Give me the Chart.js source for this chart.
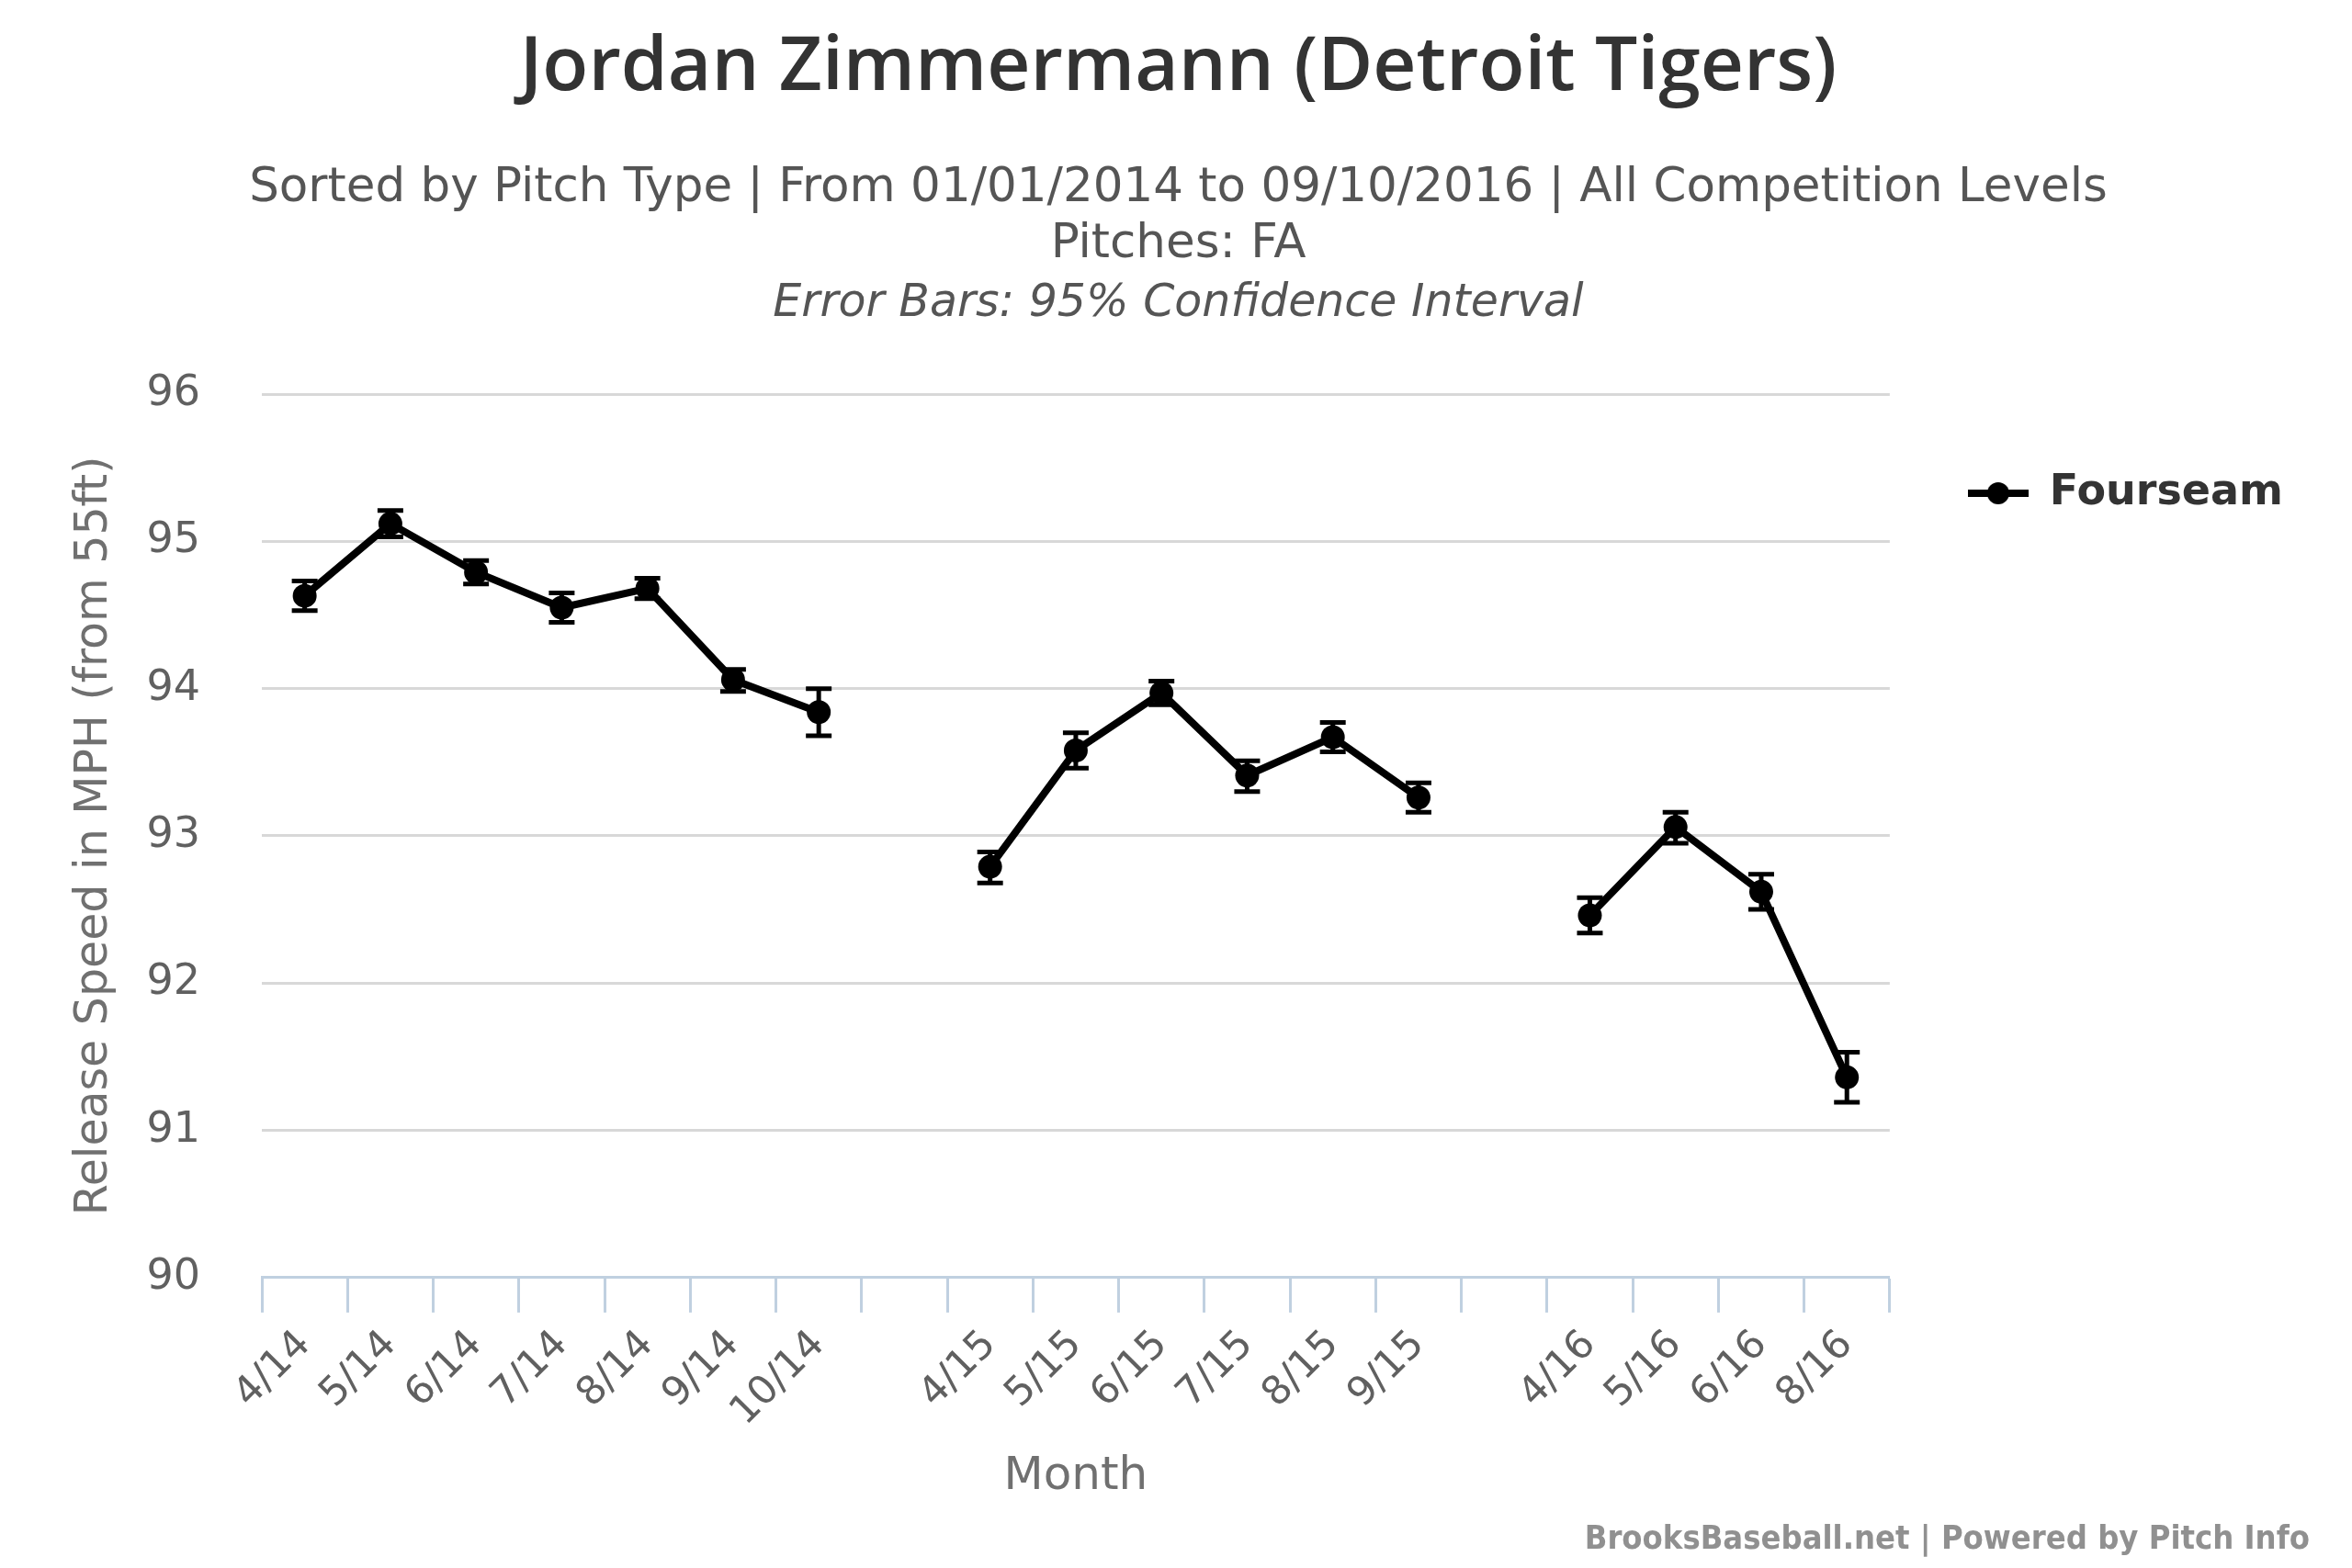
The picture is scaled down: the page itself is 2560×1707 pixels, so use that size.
<!DOCTYPE html>
<html lang="en">
<head>
    <meta charset="UTF-8">
    <title>Jordan Zimmermann (Detroit Tigers)</title>
    <script src="https://cdn.jsdelivr.net/npm/chart.js"></script>
    <style>
        html, body { margin: 0; padding: 0; background: #fff; }
        #wrap { width: 2560px; height: 1707px; position: relative; }
    </style>
</head>
<body>
    <div id="wrap"><canvas id="chart"></canvas></div>

    <script>
        // Months (empty label = off-season gap)
        const months = ['4/14', '5/14', '6/14', '7/14', '8/14', '9/14', '10/14', '',
                        '4/15', '5/15', '6/15', '7/15', '8/15', '9/15', '',
                        '4/16', '5/16', '6/16', '8/16'];

        // Fourseam release speed (mph) and 95% CI bounds
        const speed  = [94.63, 95.12, 94.79, 94.55, 94.68, 94.06, 93.84, null,
                        92.79, 93.58, 93.97, 93.41, 93.67, 93.26, null,
                        92.46, 93.06, 92.62, 91.36];
        const ciLow  = [94.53, 95.03, 94.71, 94.45, 94.61, 93.98, 93.68, null,
                        92.68, 93.46, 93.89, 93.30, 93.57, 93.16, null,
                        92.34, 92.95, 92.50, 91.19];
        const ciHigh = [94.73, 95.21, 94.87, 94.65, 94.75, 94.13, 94.00, null,
                        92.89, 93.70, 94.05, 93.51, 93.77, 93.36, null,
                        92.58, 93.16, 92.74, 91.53];

        const yMin = 90, yMax = 96, yStep = 1;

        const titleText = 'Jordan Zimmermann (Detroit Tigers)';
        const subtitleLines = ['Sorted by Pitch Type | From 01/01/2014 to 09/10/2016 | All Competition Levels', 'Pitches: FA'];
        const noteLine = 'Error Bars: 95% Confidence Interval';
        const creditText = 'BrooksBaseball.net | Powered by Pitch Info';

        Chart.defaults.font.family = '"DejaVu Sans", sans-serif';

        // legend symbol: line through a dot
        const legendSymbol = document.createElement('canvas');
        legendSymbol.width = 66;
        legendSymbol.height = 26;
        const sctx = legendSymbol.getContext('2d');
        sctx.fillStyle = '#000';
        sctx.fillRect(0, 9, 66, 8);
        sctx.beginPath();
        sctx.arc(33, 13, 12, 0, Math.PI * 2);
        sctx.fill();

        const errorBars = {
            id: 'errorBars',
            afterDatasetsDraw(chart) {
                const x = chart.scales.x, y = chart.scales.y, ctx = chart.ctx;
                ctx.save();
                ctx.strokeStyle = '#000';
                ctx.lineWidth = 5;
                ciLow.forEach((lo, i) => {
                    if (lo === null) return;
                    const px = x.getPixelForValue(i);
                    const top = y.getPixelForValue(ciHigh[i]);
                    const bot = y.getPixelForValue(lo);
                    ctx.beginPath();
                    ctx.moveTo(px, top); ctx.lineTo(px, bot);
                    ctx.moveTo(px - 14, top); ctx.lineTo(px + 14, top);
                    ctx.moveTo(px - 14, bot); ctx.lineTo(px + 14, bot);
                    ctx.stroke();
                });
                ctx.restore();
            }
        };

        const extraText = {
            id: 'extraText',
            afterDraw(chart) {
                const ctx = chart.ctx;
                const pad = chart.options.layout.padding;
                ctx.save();
                ctx.textBaseline = 'middle';
                ctx.textAlign = 'center';
                ctx.fillStyle = '#555555';
                ctx.font = 'italic 49px "DejaVu Sans"';
                ctx.fillText(noteLine, (pad.left + chart.width - pad.right) / 2, 331);

                ctx.textAlign = 'right';
                ctx.fillStyle = '#909090';
                ctx.font = 'bold 36px "DejaVu Sans Condensed", "DejaVu Sans"';
                ctx.fillText(creditText, chart.width - 46, 1677);
                ctx.restore();
            }
        };

        new Chart(document.getElementById('chart'), {
            type: 'line',
            data: {
                labels: months,
                datasets: [{
                    label: 'Fourseam',
                    data: speed,
                    borderColor: '#000',
                    backgroundColor: '#000',
                    borderWidth: 8,
                    pointRadius: 13,
                    pointBorderWidth: 0,
                    pointBackgroundColor: '#000',
                    spanGaps: false,
                    tension: 0
                }]
            },
            options: {
                responsive: true,
                maintainAspectRatio: false,
                animation: false,
                devicePixelRatio: 1,
                layout: { padding: { left: 70, right: 65, top: 0, bottom: 65 } },
                plugins: {
                    title: {
                        display: true,
                        text: titleText,
                        color: '#333333',
                        font: { family: '"Open Sans", sans-serif', size: 82, weight: 600, lineHeight: 1.2 },
                        padding: { top: 25, bottom: 33 }
                    },
                    subtitle: {
                        display: true,
                        text: subtitleLines,
                        color: '#555555',
                        font: { size: 51.5, lineHeight: 1.2 },
                        padding: { top: 18, bottom: 131 }
                    },
                    legend: {
                        position: 'right',
                        align: 'start',
                        fullSize: false,
                        labels: {
                            usePointStyle: true,
                            pointStyle: legendSymbol,
                            pointStyleWidth: 66,
                            padding: 85,
                            color: '#333333',
                            font: { size: 46, weight: 'bold' }
                        }
                    },
                    tooltip: { enabled: false }
                },
                scales: {
                    x: {
                        offset: true,
                        grid: {
                            offset: true,
                            drawOnChartArea: false,
                            drawTicks: true,
                            tickLength: 38,
                            tickColor: '#C0D0E0',
                            tickWidth: 3
                        },
                        border: { display: true, color: '#C0D0E0', width: 3 },
                        ticks: {
                            autoSkip: false,
                            maxRotation: 45,
                            minRotation: 45,
                            padding: 10,
                            color: '#606060',
                            font: { size: 43 }
                        },
                        title: {
                            display: true,
                            text: 'Month',
                            color: '#707070',
                            font: { size: 50 },
                            padding: { top: 5, bottom: 4 }
                        }
                    },
                    y: {
                        min: yMin,
                        max: yMax,
                        afterFit: scale => { scale.width = 215; },
                        grid: {
                            color: ctx => ctx.tick && ctx.tick.value === yMin ? 'rgba(0,0,0,0)' : '#D8D8D8',
                            lineWidth: 3,
                            drawTicks: false
                        },
                        border: { display: false },
                        ticks: {
                            stepSize: yStep,
                            padding: 67,
                            color: '#606060',
                            font: { size: 46 }
                        },
                        title: {
                            display: true,
                            text: 'Release Speed in MPH (from 55ft)',
                            color: '#707070',
                            font: { size: 49 },
                            padding: { top: 4, bottom: 4 }
                        }
                    }
                }
            },
            plugins: [errorBars, extraText]
        });
    </script>
</body>
</html>
